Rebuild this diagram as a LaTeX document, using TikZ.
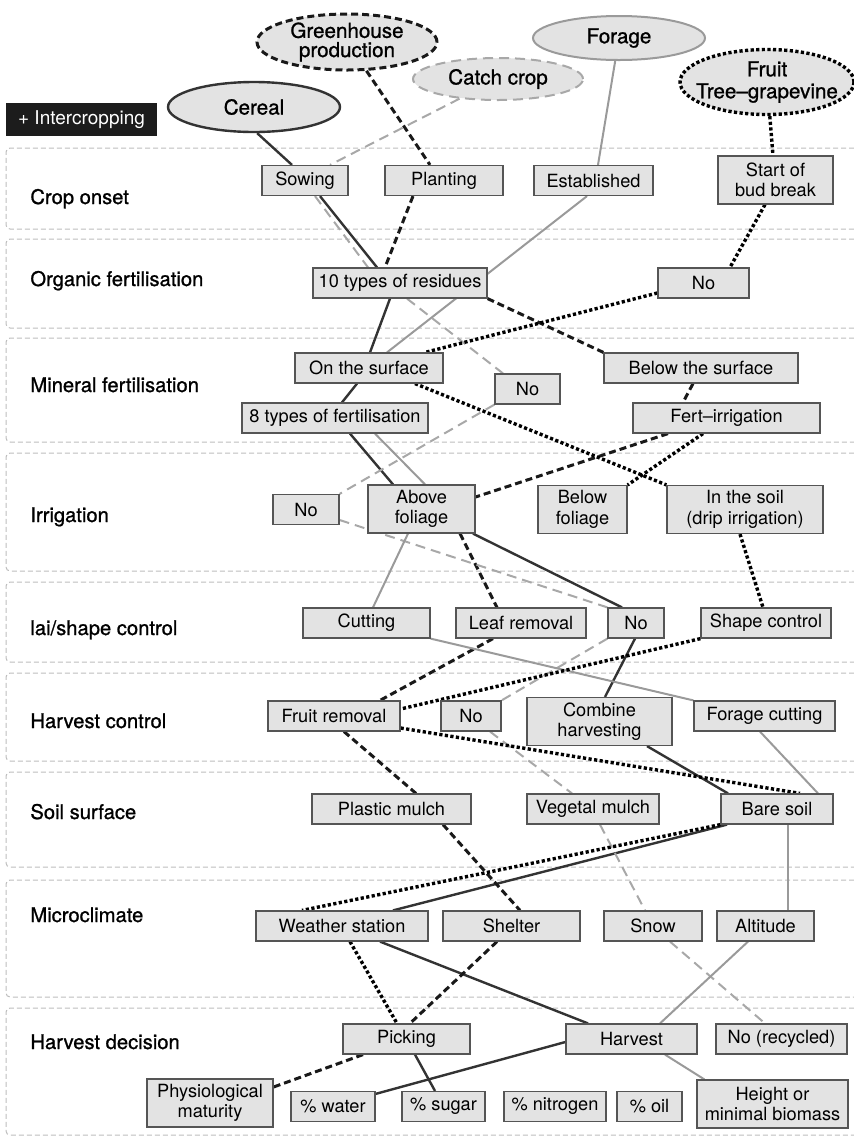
\documentclass[tikz,border=0pt]{standalone}
\usepackage{fontspec}
\setmainfont{TeX Gyre Heros}
\newfontfamily\medfont{TeX Gyre Heros}[FakeBold=1,Ligatures=TeX]
\usetikzlibrary{shapes.geometric,backgrounds}

\definecolor{boxfill}{HTML}{E3E3E3}
\definecolor{boxline}{HTML}{555555}
\definecolor{darkln}{HTML}{333333}
\definecolor{lightln}{HTML}{9A9A9A}
\definecolor{dashln}{HTML}{A8A8A8}
\definecolor{bandln}{HTML}{BDBDBD}
\definecolor{tagfill}{HTML}{1C1C1C}

\begin{document}
\begin{tikzpicture}[x=0.5pt,y=-0.5pt,
    stagebox/.style={rectangle,draw=boxline,fill=boxfill,line width=0.6pt,inner sep=0pt,minimum height=15pt,align=center,font=\fontsize{9.1}{10.2}\selectfont},
    twoline/.style={minimum height=24pt},
    cropell/.style={ellipse,fill=boxfill,inner sep=0pt},
    croptxt/.style={inner sep=0pt,align=center,font=\medfont\fontsize{10.3}{11}\selectfont},
    rowlbl/.style={anchor=base west,inner sep=0pt,font=\medfont\fontsize{10.1}{12}\selectfont},
    band/.style={draw=bandln,line width=0.5pt,dash pattern=on 2.5pt off 1.5pt,rounded corners=2pt},
    cerealln/.style={draw=darkln,line width=1.2pt},
    greenln/.style={draw=black!90,line width=1.5pt,dash pattern=on 3.5pt off 2pt},
    catchln/.style={draw=dashln,line width=1pt,dash pattern=on 5pt off 3pt},
    forageln/.style={draw=lightln,line width=1pt},
    fruitln/.style={draw=black,line width=1.7pt,dash pattern=on 1.6pt off 1.2pt}]
    \useasboundingbox (0,0) rectangle (854,1137);

    % crops
    \node[fill=tagfill,text=white,inner sep=0pt,minimum width=75.5pt,minimum height=16.5pt,font=\fontsize{9.5}{11}\selectfont] (inter) at (81.5,119.5) {+ Intercropping};
    \node[cropell,cerealln,minimum width=86pt,minimum height=25pt,label={[croptxt]center:Cereal}] (cereal) at (254,107) {};
    \node[cropell,greenln,minimum width=90pt,minimum height=28pt,label={[croptxt,font=\medfont\fontsize{10.3}{9.6}\selectfont]center:Greenhouse\\production}] (green) at (347,42) {};
    \node[cropell,catchln,minimum width=85pt,minimum height=21pt,label={[croptxt]center:Catch crop}] (catch) at (498,79) {};
    \node[cropell,forageln,minimum width=86pt,minimum height=22pt,label={[croptxt]center:Forage}] (forage) at (619,38) {};
    \node[cropell,fruitln,minimum width=87pt,minimum height=32.5pt,label={[croptxt]center:Fruit\\Tree\textendash grapevine}] (fruit) at (767,82) {};

    % row labels
    \node[rowlbl] (lonset) at (30,204) {Crop onset};
    \node[rowlbl] (lorgan) at (30,286) {Organic fertilisation};
    \node[rowlbl] (lminer) at (30,392) {Mineral fertilisation};
    \node[rowlbl] (lirrig) at (30,522) {Irrigation};
    \node[rowlbl] (lshape) at (30,635) {lai/shape control};
    \node[rowlbl] (lhcont) at (30,728) {Harvest control};
    \node[rowlbl] (lsoil) at (30,819) {Soil surface};
    \node[rowlbl] (lclim) at (30,922) {Microclimate};
    \node[rowlbl] (lhdec) at (30,1049) {Harvest decision};

    % crop onset
    \node[stagebox,minimum width=43pt] (sowing) at (305,180.5) {Sowing};
    \node[stagebox,minimum width=59pt] (plant) at (444,180.5) {Planting};
    \node[stagebox,minimum width=59.5pt] (estab) at (593.5,180.5) {Established};
    \node[stagebox,twoline,minimum width=57.5pt] (budbr) at (775.5,180) {Start of\\bud break};
    % organic fertilisation
    \node[stagebox,minimum width=87pt] (resid) at (400,283) {10 types of residues};
    \node[stagebox,minimum width=45.5pt] (orgno) at (703.5,283) {No};
    % mineral fertilisation
    \node[stagebox,minimum width=74pt] (onsurf) at (369,368) {On the surface};
    \node[stagebox,minimum width=32.5pt] (minno) at (527.5,389) {No};
    \node[stagebox,minimum width=97pt] (below) at (701,368) {Below the surface};
    \node[stagebox,minimum width=93pt] (eightf) at (335,418) {8 types of fertilisation};
    \node[stagebox,minimum width=93.5pt] (fertir) at (726.5,418) {Fert\textendash irrigation};
    % irrigation
    \node[stagebox,minimum width=33pt] (irrno) at (306,509.5) {No};
    \node[stagebox,twoline,minimum width=53.5pt] (above) at (421.5,509) {Above\\foliage};
    \node[stagebox,twoline,minimum width=44.5pt] (belowfol) at (582.5,509.5) {Below\\foliage};
    \node[stagebox,twoline,minimum width=78pt] (insoil) at (745,509.5) {In the soil\\(drip irrigation)};
    % lai/shape control
    \node[stagebox,minimum width=63.5pt] (cutting) at (366.5,623) {Cutting};
    \node[stagebox,minimum width=65pt] (leafrm) at (521,623) {Leaf removal};
    \node[stagebox,minimum width=28pt] (laino) at (636,623) {No};
    \node[stagebox,minimum width=65pt] (shapec) at (766,623) {Shape control};
    % harvest control
    \node[stagebox,minimum width=66pt] (fruitrm) at (334,716) {Fruit removal};
    \node[stagebox,minimum width=30pt] (harvno) at (471,716) {No};
    \node[stagebox,twoline,minimum width=72.5pt] (combine) at (599.5,721.5) {Combine\\harvesting};
    \node[stagebox,minimum width=70.5pt] (foragec) at (764.5,716) {Forage cutting};
    % soil surface
    \node[stagebox,minimum width=79.5pt] (plastic) at (391.5,809) {Plastic mulch};
    \node[stagebox,minimum width=66pt] (vegetal) at (593,809) {Vegetal mulch};
    \node[stagebox,minimum width=56pt] (bare) at (777,809) {Bare soil};
    % microclimate
    \node[stagebox,minimum width=86pt] (weather) at (342,926) {Weather station};
    \node[stagebox,minimum width=68.5pt] (shelter) at (511.5,926) {Shelter};
    \node[stagebox,minimum width=49pt] (snow) at (653,926) {Snow};
    \node[stagebox,minimum width=48.5pt] (altit) at (765.5,926) {Altitude};
    % harvest decision
    \node[stagebox,minimum width=63.5pt] (picking) at (406.5,1039) {Picking};
    \node[stagebox,minimum width=65.5pt] (harvest) at (631.5,1039) {Harvest};
    \node[stagebox,minimum width=65.5pt] (norecyc) at (781.5,1039) {No (recycled)};
    \node[stagebox,twoline,minimum width=63pt] (physio) at (210,1103) {Physiological\\maturity};
    \node[stagebox,minimum width=42pt] (water) at (333,1106.5) {\% water};
    \node[stagebox,minimum width=41.5pt] (sugar) at (443.5,1106.5) {\% sugar};
    \node[stagebox,minimum width=51pt] (nitro) at (555,1106.5) {\% nitrogen};
    \node[stagebox,minimum width=32.5pt] (oil) at (649.5,1106.5) {\% oil};
    \node[stagebox,twoline,minimum width=75.5pt] (height) at (772.5,1104) {Height or\\minimal biomass};

    \begin{pgfonlayer}{background}
    % row bands, open to the right
    \draw[band] (854,148) -- (6,148) -- (6,229) -- (854,229);
    \draw[band] (854,239) -- (6,239) -- (6,328) -- (854,328);
    \draw[band] (854,338) -- (6,338) -- (6,442) -- (854,442);
    \draw[band] (854,453) -- (6,453) -- (6,571) -- (854,571);
    \draw[band] (854,582) -- (6,582) -- (6,662) -- (854,662);
    \draw[band] (854,673) -- (6,673) -- (6,761) -- (854,761);
    \draw[band] (854,772) -- (6,772) -- (6,867) -- (854,867);
    \draw[band] (854,880) -- (6,880) -- (6,997) -- (854,997);
    \draw[band] (854,1008) -- (6,1008) -- (6,1135) -- (854,1135);

    % cereal
    \path[cerealln]
    (cereal.-83) edge ([xshift=-6.5pt]sowing.north)
    ([xshift=7.5pt]sowing.south) edge ([xshift=-11.5pt]resid.north)
    ([xshift=-5pt]resid.south) edge ([xshift=0.5pt]onsurf.north)
    ([xshift=-6pt]onsurf.south) edge ([xshift=3.5pt]eightf.north)
    ([xshift=7.5pt]eightf.south) edge ([xshift=-14.25pt]above.north)
    ([xshift=25.75pt]above.south) edge ([xshift=-7pt]laino.north)
    ([xshift=-0.5pt]laino.south) edge ([xshift=2.75pt]combine.north)
    ([xshift=23.75pt]combine.south) edge ([xshift=-24.5pt]bare.north)
    ([xshift=-25pt]bare.south) edge ([xshift=25.5pt]weather.north)
    ([xshift=19pt]weather.south) edge ([xshift=-21.75pt]harvest.north)
    ([yshift=-1.5pt]harvest.west) edge ([yshift=-1.5pt]water.north east)
    ([xshift=4.25pt]picking.south) edge ([xshift=-4.25pt]sugar.north);

    % greenhouse production
    \path[greenln]
    (green) edge ([xshift=-7pt]plant.north)
    ([xshift=-15.5pt]plant.south) edge ([xshift=-7.5pt]resid.north)
    (resid.south east) edge (below.north west)
    ([xshift=-4pt]below.south) edge ([xshift=-21.75pt]fertir.north)
    ([xshift=-29.25pt]fertir.south) edge ([yshift=6pt]above.east)
    ([xshift=19.25pt]above.south) edge ([xshift=-12pt]leafrm.north)
    ([xshift=-14pt]leafrm.south) edge ([xshift=23pt]fruitrm.north)
    ([xshift=5pt]fruitrm.south) edge ([xshift=12.25pt]plastic.north)
    ([xshift=25.75pt]plastic.south) edge ([xshift=4.25pt]shelter.north)
    ([xshift=-7.25pt]shelter.south) edge ([xshift=1.75pt]picking.north)
    ([xshift=-21.75pt]picking.south) edge ([yshift=8pt]physio.east);

    % catch crop
    \path[catchln]
    (catch) edge ([xshift=12.5pt]sowing.north)
    ([xshift=5pt]sowing.south) edge ([xshift=-16pt]resid.north)
    ([xshift=3.5pt]resid.south) edge ([xshift=-12.25pt]minno.north)
    (minno.south west) edge (irrno.north east)
    ([yshift=-5.25pt]irrno.east) edge (laino.north west)
    (laino.south west) edge (harvno.north east)
    ([xshift=9.5pt]harvno.south) edge ([xshift=-10.5pt]vegetal.north)
    ([xshift=3.5pt]vegetal.south) edge ([xshift=-4pt]snow.north)
    ([xshift=8.5pt]snow.south) edge ([xshift=-8.25pt]norecyc.north);

    % forage
    \path[forageln]
    (forage) edge ([xshift=2.25pt]estab.north)
    ([xshift=-3.25pt]estab.south) edge ([xshift=9pt]onsurf.north)
    ([xshift=20pt]eightf.south) edge ([xshift=1.75pt]above.north)
    ([xshift=-6.75pt]above.south) edge ([xshift=3.25pt]cutting.north)
    (cutting.south east) edge (foragec.north west)
    ([xshift=-2.25pt]foragec.south) edge ([xshift=20.5pt]bare.north)
    ([xshift=5.5pt]bare.south) edge ([xshift=11.25pt]altit.north)
    ([xshift=-8.75pt]altit.south) edge ([xshift=14.25pt]harvest.north)
    ([xshift=16.75pt]harvest.south) edge ([xshift=4pt]height.north west);

    % fruit tree-grapevine
    \path[fruitln]
    (fruit) edge ([xshift=-1.25pt]budbr.north)
    ([xshift=-5.25pt]budbr.south) edge ([xshift=13.25pt]orgno.north)
    ([yshift=-5pt]orgno.west) edge ([xshift=28pt]onsurf.north)
    ([xshift=23pt]onsurf.south) edge (insoil.north west)
    ([xshift=-11.75pt]fertir.south) edge (belowfol.north east)
    ([xshift=-2.5pt]insoil.south) edge ([xshift=-1.5pt]shapec.north)
    (shapec.south west) edge ([yshift=3.5pt]fruitrm.east)
    ([yshift=-6pt]fruitrm.east) edge ([xshift=11.5pt]bare.north)
    (bare.south west) edge ([xshift=-20pt]weather.north)
    ([xshift=4pt]weather.south) edge ([xshift=-4.75pt]picking.north);
    \end{pgfonlayer}
\end{tikzpicture}
\end{document}
